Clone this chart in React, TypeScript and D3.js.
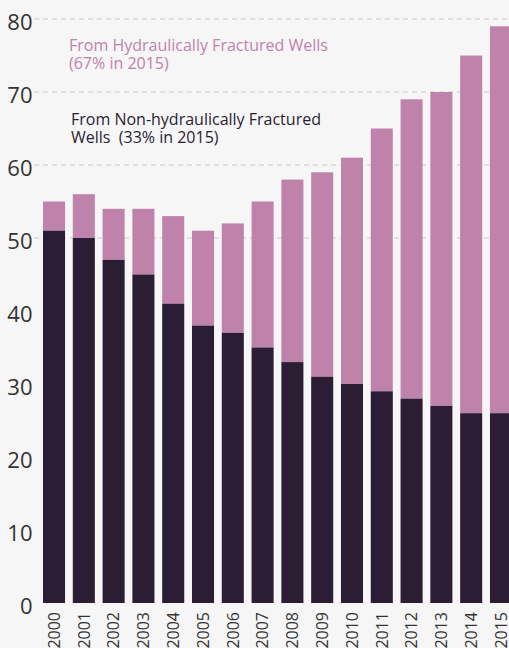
import React from "react";
import * as d3 from "d3";

const years = ["2000", "2001", "2002", "2003", "2004", "2005", "2006", "2007", "2008", "2009", "2010", "2011", "2012", "2013", "2014", "2015"];
// non-hydraulically fractured wells (dark part)
const nonFractured = [51, 50, 47, 45, 41, 38, 37, 35, 33, 31, 30, 29, 28, 27, 26, 26];
// total height of each bar
const totals = [55, 56, 54, 54, 53, 51, 52, 55, 58, 59, 61, 65, 69, 70, 75, 79];
const yTicks = [0, 10, 20, 30, 40, 50, 60, 70, 80];
const gridTicks = [50, 60, 70, 80];

const W = 509;
const H = 648;
const font = "'Open Sans', sans-serif";
const dark = "#2a1d34";
const pink = "#bf82ab";

export default function App() {
  const x = d3.scaleBand().domain(years).range([43, 512]).paddingInner(0.26).paddingOuter(0);
  const y = d3.scaleLinear().domain([0, 80]).range([603, 19]);

  return (
    <svg
      width={W}
      height={H}
      style={{ position: "absolute", left: 0, top: 0, display: "block", background: "#f6f6f6" }}
      fontFamily={font}
    >
      <rect width={W} height={H} fill="#f6f6f6" />

      {gridTicks.map((t) => (
        <line key={t} x1={34} x2={W} y1={y(t)} y2={y(t)} stroke="#c9c9c9" strokeWidth={1} strokeDasharray="5,4" />
      ))}

      {years.map((yr, i) => (
        <g key={yr}>
          <rect x={x(yr)} y={y(totals[i])} width={x.bandwidth()} height={y(nonFractured[i]) - y(totals[i])} fill={pink} />
          <rect x={x(yr)} y={y(nonFractured[i])} width={x.bandwidth()} height={y(0) - y(nonFractured[i])} fill={dark} />
          <text
            transform={`translate(${(x(yr) as number) + x.bandwidth() / 2},612) rotate(-90)`}
            textAnchor="end"
            dy="0.36em"
            fontSize={16}
            fill="#333"
          >
            {yr}
          </text>
        </g>
      ))}

      {yTicks.map((t) => (
        <text key={t} x={32.5} y={y(t)} dy="0.5em" textAnchor="end" fontSize={22} fill="#333">
          {t}
        </text>
      ))}

      <text x={69} y={51} fontSize={16} fill={pink}>
        From Hydraulically Fractured Wells
      </text>
      <text x={69} y={69} fontSize={16} fill={pink}>
        (67% in 2015)
      </text>
      <text x={71} y={125} fontSize={16} fill={dark}>
        From Non-hydraulically Fractured
      </text>
      <text x={71} y={143} fontSize={16} fill={dark} style={{ whiteSpace: "pre" }}>
        {"Wells  (33% in 2015)"}
      </text>
    </svg>
  );
}
